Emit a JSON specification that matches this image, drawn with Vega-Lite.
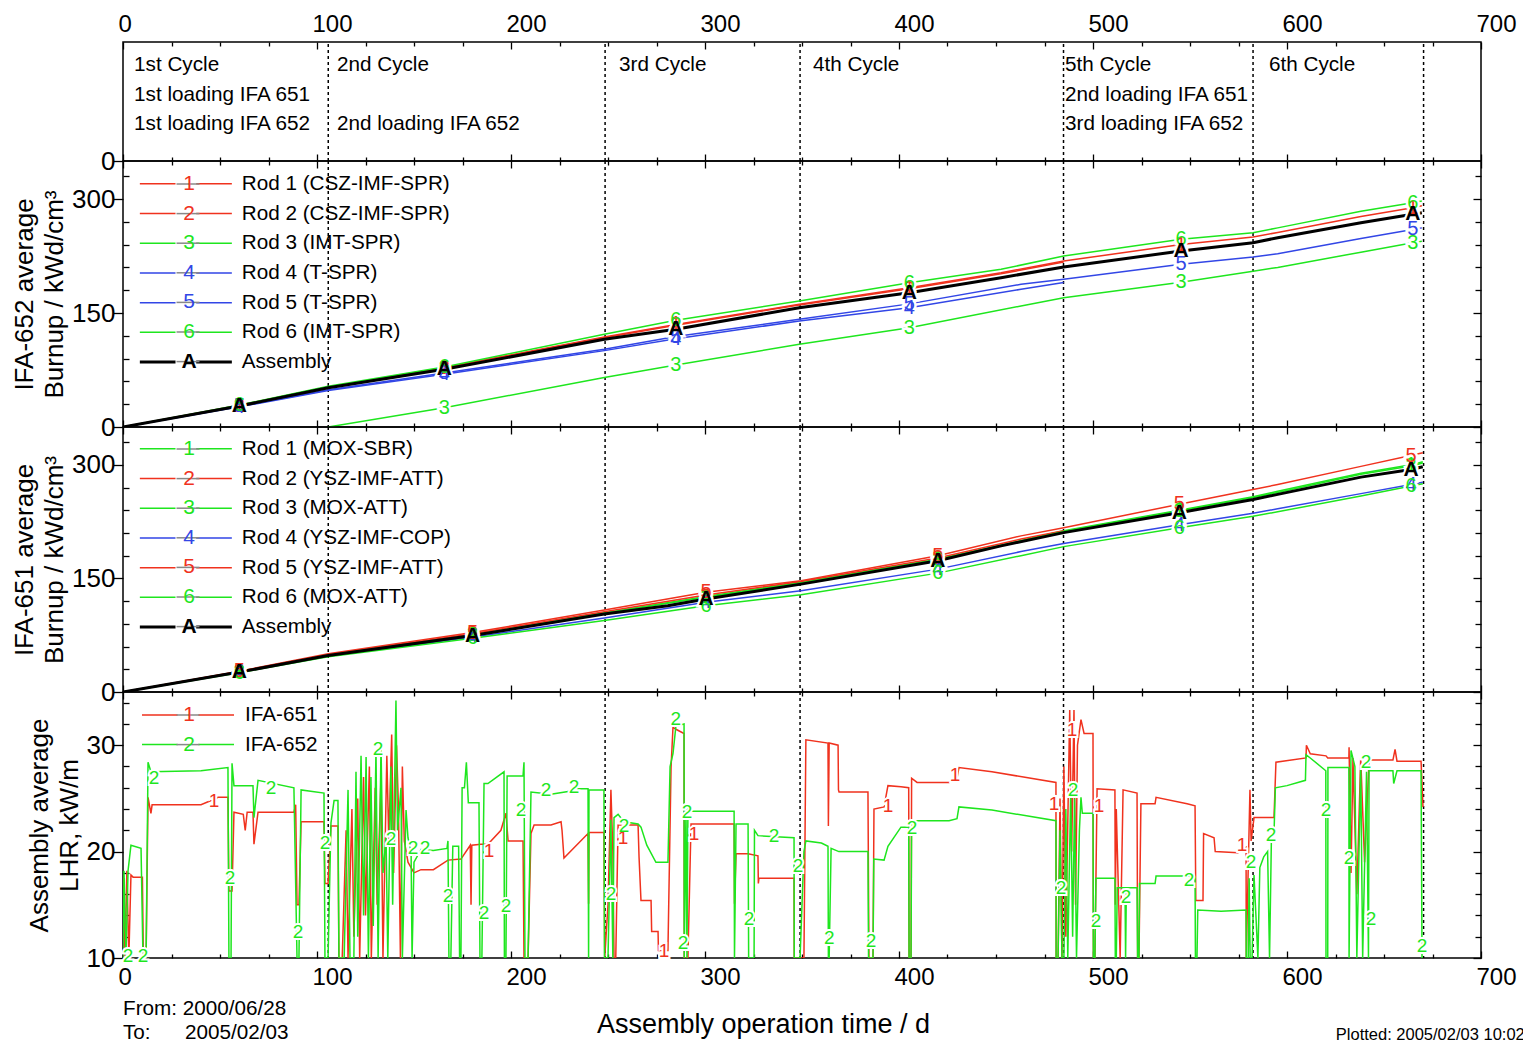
{
"$schema":"https://vega.github.io/schema/vega-lite/v6.json",
"background":"white",
"padding":{"left":10,"top":8,"right":0,"bottom":0},
"autosize":{"type":"pad"},
"config":{"font":"Liberation Sans","view":{"stroke":"black","strokeWidth":1.5},"axis":{"grid":false,"domain":false,"tickColor":"black","tickWidth":1.3,"labelFontSize":24,"labelColor":"black","titleFontSize":26,"titleFontWeight":"normal","titleColor":"black","labelFlush":false,"labelOverlap":false,"labelBound":false},"legend":{"labelFont":"Liberation Sans"}},
"spacing":0,
"bounds":"flush",
"title":{"text":"Plotted: 2005/02/03 10:02","orient":"bottom","anchor":"end","fontSize":16.5,"fontWeight":"normal","color":"black","offset":-16,"dx":8},
"datasets":{
"cyc":[{"day":105.8},{"day":248.5},{"day":349},{"day":484.8},{"day":582.5},{"day":670.4}],
"ctext":[{"day":5.7,"line":"cycle","txt":"1st Cycle"},{"day":5.7,"line":"IFA 651","txt":"1st loading IFA 651"},{"day":5.7,"line":"IFA 652","txt":"1st loading IFA 652"},{"day":110.3,"line":"cycle","txt":"2nd Cycle"},{"day":110.3,"line":"IFA 652","txt":"2nd loading IFA 652"},{"day":255.7,"line":"cycle","txt":"3rd Cycle"},{"day":355.7,"line":"cycle","txt":"4th Cycle"},{"day":485.6,"line":"cycle","txt":"5th Cycle"},{"day":485.6,"line":"IFA 651","txt":"2nd loading IFA 651"},{"day":485.6,"line":"IFA 652","txt":"3rd loading IFA 652"},{"day":590.7,"line":"cycle","txt":"6th Cycle"}],
"r652":[{"rod":"1","label":"Rod 1 (CSZ-IMF-SPR)"},{"rod":"2","label":"Rod 2 (CSZ-IMF-SPR)"},{"rod":"3","label":"Rod 3 (IMT-SPR)"},{"rod":"4","label":"Rod 4 (T-SPR)"},{"rod":"5","label":"Rod 5 (T-SPR)"},{"rod":"6","label":"Rod 6 (IMT-SPR)"},{"rod":"A","label":"Assembly"}],
"r651":[{"rod":"1","label":"Rod 1 (MOX-SBR)"},{"rod":"2","label":"Rod 2 (YSZ-IMF-ATT)"},{"rod":"3","label":"Rod 3 (MOX-ATT)"},{"rod":"4","label":"Rod 4 (YSZ-IMF-COP)"},{"rod":"5","label":"Rod 5 (YSZ-IMF-ATT)"},{"rod":"6","label":"Rod 6 (MOX-ATT)"},{"rod":"A","label":"Assembly"}],
"rl":[{"rod":"1","label":"IFA-651"},{"rod":"2","label":"IFA-652"}],
"b652":[
{"rod":"1","day":0,"v":0},{"rod":"1","day":60,"v":28.5},{"rod":"1","day":105.8,"v":52.5},{"rod":"1","day":165.6,"v":78},{"rod":"1","day":248.1,"v":118.4},{"rod":"1","day":285,"v":135},{"rod":"1","day":348.6,"v":161.4},{"rod":"1","day":405.3,"v":183.3},{"rod":"1","day":452.6,"v":203},{"rod":"1","day":484.9,"v":218.4},{"rod":"1","day":545.4,"v":240},{"rod":"1","day":582.5,"v":250},{"rod":"1","day":595.2,"v":256},{"rod":"1","day":638.1,"v":277},{"rod":"1","day":664.8,"v":288.6},{"rod":"1","day":669.5,"v":291},
{"rod":"2","day":0,"v":0},{"rod":"2","day":60,"v":28},{"rod":"2","day":105.8,"v":52},{"rod":"2","day":165.6,"v":77.5},{"rod":"2","day":248.1,"v":117.5},{"rod":"2","day":285,"v":134},{"rod":"2","day":348.6,"v":160.5},{"rod":"2","day":405.3,"v":182},{"rod":"2","day":452.6,"v":201.5},{"rod":"2","day":484.9,"v":217},
{"rod":"3","day":105.8,"v":0},{"rod":"3","day":165.6,"v":25.4},{"rod":"3","day":248.1,"v":65},{"rod":"3","day":285,"v":81.5},{"rod":"3","day":348.6,"v":108.8},{"rod":"3","day":405.3,"v":130.5},{"rod":"3","day":462.9,"v":159.2},{"rod":"3","day":484.9,"v":170},{"rod":"3","day":545.4,"v":190.5},{"rod":"3","day":582.5,"v":205},{"rod":"3","day":595.2,"v":210},{"rod":"3","day":638.1,"v":230},{"rod":"3","day":664.8,"v":242.5},{"rod":"3","day":669.5,"v":244.5},
{"rod":"4","day":0,"v":0},{"rod":"4","day":60,"v":26.5},{"rod":"4","day":105.8,"v":48},{"rod":"4","day":165.6,"v":69.5},{"rod":"4","day":248.1,"v":100.5},{"rod":"4","day":285,"v":116},{"rod":"4","day":348.6,"v":139.5},{"rod":"4","day":405.3,"v":157},{"rod":"4","day":462.9,"v":181.2},{"rod":"4","day":484.9,"v":190},
{"rod":"5","day":0,"v":0},{"rod":"5","day":60,"v":27},{"rod":"5","day":105.8,"v":49},{"rod":"5","day":165.6,"v":71},{"rod":"5","day":248.1,"v":102.2},{"rod":"5","day":285,"v":119},{"rod":"5","day":348.6,"v":141.7},{"rod":"5","day":405.3,"v":162},{"rod":"5","day":462.9,"v":187.8},{"rod":"5","day":484.9,"v":194.3},{"rod":"5","day":545.4,"v":214},{"rod":"5","day":582.5,"v":223.7},{"rod":"5","day":595.2,"v":228},{"rod":"5","day":638.1,"v":248},{"rod":"5","day":664.8,"v":260},{"rod":"5","day":669.5,"v":262},
{"rod":"6","day":0,"v":0},{"rod":"6","day":60,"v":29},{"rod":"6","day":105.8,"v":53.5},{"rod":"6","day":165.6,"v":79},{"rod":"6","day":248.1,"v":122},{"rod":"6","day":285,"v":140.4},{"rod":"6","day":348.6,"v":165.8},{"rod":"6","day":405.3,"v":189.9},{"rod":"6","day":452.6,"v":207.5},{"rod":"6","day":484.9,"v":225},{"rod":"6","day":545.4,"v":247},{"rod":"6","day":582.5,"v":255.7},{"rod":"6","day":595.2,"v":262},{"rod":"6","day":638.1,"v":284},{"rod":"6","day":664.8,"v":295},{"rod":"6","day":669.5,"v":297.5},
{"rod":"A","day":0,"v":0},{"rod":"A","day":60,"v":27.6},{"rod":"A","day":105.8,"v":51.7},{"rod":"A","day":165.6,"v":75.9},{"rod":"A","day":248.1,"v":115.4},{"rod":"A","day":285,"v":128.5},{"rod":"A","day":348.6,"v":157},{"rod":"A","day":405.3,"v":176.7},{"rod":"A","day":452.6,"v":196.5},{"rod":"A","day":484.9,"v":210.5},{"rod":"A","day":545.4,"v":231.6},{"rod":"A","day":582.5,"v":242.5},{"rod":"A","day":595.2,"v":249},{"rod":"A","day":638.1,"v":268.8},{"rod":"A","day":664.8,"v":279.8},{"rod":"A","day":669.5,"v":281.8}],
"m652":[
{"rod":"1","day":60,"v":28.5},{"rod":"1","day":165.6,"v":78},{"rod":"1","day":285,"v":135},{"rod":"1","day":405.3,"v":183.3},{"rod":"1","day":545.4,"v":240},{"rod":"1","day":664.8,"v":288.6},
{"rod":"2","day":60,"v":28},{"rod":"2","day":165.6,"v":77.5},{"rod":"2","day":285,"v":134},{"rod":"2","day":405.3,"v":182},
{"rod":"3","day":165.6,"v":25.4},{"rod":"3","day":285,"v":81.5},{"rod":"3","day":405.3,"v":130.5},{"rod":"3","day":545.4,"v":190.5},{"rod":"3","day":664.8,"v":242.5},
{"rod":"4","day":60,"v":26.5},{"rod":"4","day":165.6,"v":69.5},{"rod":"4","day":285,"v":116},{"rod":"4","day":405.3,"v":157},
{"rod":"5","day":60,"v":27},{"rod":"5","day":165.6,"v":71},{"rod":"5","day":285,"v":119},{"rod":"5","day":405.3,"v":162},{"rod":"5","day":545.4,"v":214},{"rod":"5","day":664.8,"v":260},
{"rod":"6","day":60,"v":29},{"rod":"6","day":165.6,"v":79},{"rod":"6","day":285,"v":140.4},{"rod":"6","day":405.3,"v":189.9},{"rod":"6","day":545.4,"v":247},{"rod":"6","day":664.8,"v":295},
{"rod":"A","day":60,"v":27.6},{"rod":"A","day":165.6,"v":75.9},{"rod":"A","day":285,"v":128.5},{"rod":"A","day":405.3,"v":176.7},{"rod":"A","day":545.4,"v":231.6},{"rod":"A","day":664.8,"v":279.8}],
"b651":[
{"rod":"1","day":0,"v":0},{"rod":"1","day":60,"v":26.8},{"rod":"1","day":105.8,"v":49},{"rod":"1","day":180.2,"v":75.5},{"rod":"1","day":248.1,"v":104.5},{"rod":"1","day":300.5,"v":126},{"rod":"1","day":349.5,"v":145},{"rod":"1","day":420,"v":175.5},{"rod":"1","day":462.9,"v":200},{"rod":"1","day":484.9,"v":213},{"rod":"1","day":544.5,"v":240},{"rod":"1","day":582.5,"v":258},{"rod":"1","day":595.2,"v":265},{"rod":"1","day":638.1,"v":289},{"rod":"1","day":664,"v":300},{"rod":"1","day":670,"v":304},
{"rod":"2","day":0,"v":0},{"rod":"2","day":60,"v":27},{"rod":"2","day":105.8,"v":49.5},{"rod":"2","day":180.2,"v":77},{"rod":"2","day":248.1,"v":106},{"rod":"2","day":300.5,"v":128},{"rod":"2","day":349.5,"v":146},{"rod":"2","day":420,"v":177},{"rod":"2","day":462.9,"v":202},{"rod":"2","day":484.9,"v":213},
{"rod":"3","day":0,"v":0},{"rod":"3","day":60,"v":26.5},{"rod":"3","day":105.8,"v":48.8},{"rod":"3","day":180.2,"v":75},{"rod":"3","day":248.1,"v":104},{"rod":"3","day":300.5,"v":125},{"rod":"3","day":349.5,"v":144},{"rod":"3","day":420,"v":175},{"rod":"3","day":462.9,"v":199},{"rod":"3","day":484.9,"v":212},{"rod":"3","day":544.5,"v":239},{"rod":"3","day":582.5,"v":257},{"rod":"3","day":595.2,"v":263.5},{"rod":"3","day":638.1,"v":287.5},{"rod":"3","day":664,"v":298.5},{"rod":"3","day":670,"v":302.5},
{"rod":"4","day":0,"v":0},{"rod":"4","day":60,"v":26},{"rod":"4","day":105.8,"v":47.5},{"rod":"4","day":180.2,"v":72.5},{"rod":"4","day":248.1,"v":97.8},{"rod":"4","day":300.5,"v":118.4},{"rod":"4","day":349.5,"v":133.8},{"rod":"4","day":420,"v":162.3},{"rod":"4","day":462.9,"v":185.5},{"rod":"4","day":484.9,"v":196},{"rod":"4","day":544.5,"v":221},{"rod":"4","day":582.5,"v":236},{"rod":"4","day":595.2,"v":242},{"rod":"4","day":638.1,"v":262},{"rod":"4","day":664,"v":274},{"rod":"4","day":670,"v":277},
{"rod":"5","day":0,"v":0},{"rod":"5","day":60,"v":27.5},{"rod":"5","day":105.8,"v":50.5},{"rod":"5","day":180.2,"v":78.5},{"rod":"5","day":248.1,"v":108.3},{"rod":"5","day":300.5,"v":131.6},{"rod":"5","day":349.5,"v":147},{"rod":"5","day":420,"v":179.9},{"rod":"5","day":462.9,"v":206.2},{"rod":"5","day":484.9,"v":217},{"rod":"5","day":544.5,"v":248},{"rod":"5","day":582.5,"v":267.5},{"rod":"5","day":595.2,"v":274},{"rod":"5","day":638.1,"v":298},{"rod":"5","day":662,"v":311.4},{"rod":"5","day":670,"v":316},
{"rod":"6","day":0,"v":0},{"rod":"6","day":60,"v":25.5},{"rod":"6","day":105.8,"v":46.5},{"rod":"6","day":180.2,"v":71},{"rod":"6","day":248.1,"v":94.3},{"rod":"6","day":300.5,"v":114},{"rod":"6","day":349.5,"v":128.5},{"rod":"6","day":420,"v":157},{"rod":"6","day":462.9,"v":180},{"rod":"6","day":484.9,"v":192},{"rod":"6","day":544.5,"v":217},{"rod":"6","day":582.5,"v":232},{"rod":"6","day":595.2,"v":238},{"rod":"6","day":638.1,"v":259},{"rod":"6","day":664,"v":272},{"rod":"6","day":670,"v":275},
{"rod":"A","day":0,"v":0},{"rod":"A","day":60,"v":26.3},{"rod":"A","day":105.8,"v":48.3},{"rod":"A","day":180.2,"v":74.6},{"rod":"A","day":248.1,"v":103},{"rod":"A","day":280.8,"v":114},{"rod":"A","day":300.5,"v":122.8},{"rod":"A","day":349.5,"v":142.5},{"rod":"A","day":420,"v":173.3},{"rod":"A","day":452.6,"v":193},{"rod":"A","day":484.9,"v":210.5},{"rod":"A","day":544.5,"v":236.8},{"rod":"A","day":582.5,"v":254.3},{"rod":"A","day":595.2,"v":261},{"rod":"A","day":638.1,"v":283.8},{"rod":"A","day":663.9,"v":293.8},{"rod":"A","day":670,"v":297.5}],
"m651":[
{"rod":"1","day":60,"v":26.8},{"rod":"1","day":180.2,"v":75.5},{"rod":"1","day":300.5,"v":126},{"rod":"1","day":420,"v":175.5},{"rod":"1","day":544.5,"v":240},{"rod":"1","day":664,"v":300},
{"rod":"2","day":60,"v":27},{"rod":"2","day":180.2,"v":77},{"rod":"2","day":300.5,"v":128},{"rod":"2","day":420,"v":177},
{"rod":"3","day":60,"v":26.5},{"rod":"3","day":180.2,"v":75},{"rod":"3","day":300.5,"v":125},{"rod":"3","day":420,"v":175},{"rod":"3","day":544.5,"v":239},{"rod":"3","day":664,"v":298.5},
{"rod":"4","day":60,"v":26},{"rod":"4","day":180.2,"v":72.5},{"rod":"4","day":300.5,"v":118.4},{"rod":"4","day":420,"v":162.3},{"rod":"4","day":544.5,"v":221},{"rod":"4","day":664,"v":274},
{"rod":"5","day":60,"v":27.5},{"rod":"5","day":180.2,"v":78.5},{"rod":"5","day":300.5,"v":131.6},{"rod":"5","day":420,"v":179.9},{"rod":"5","day":544.5,"v":248},{"rod":"5","day":664,"v":312},
{"rod":"6","day":60,"v":25.5},{"rod":"6","day":180.2,"v":71},{"rod":"6","day":300.5,"v":114},{"rod":"6","day":420,"v":157},{"rod":"6","day":544.5,"v":217},{"rod":"6","day":664,"v":272},
{"rod":"A","day":60,"v":26.3},{"rod":"A","day":180.2,"v":74.6},{"rod":"A","day":300.5,"v":122.8},{"rod":"A","day":420,"v":173.3},{"rod":"A","day":544.5,"v":236.8},{"rod":"A","day":664,"v":293.8}],
"lhr":[
{"rod":"1","day":0,"v":10},{"rod":"1","day":0.5,"v":17.5},{"rod":"1","day":1,"v":10},{"rod":"1","day":2,"v":18.2},{"rod":"1","day":3,"v":10},{"rod":"1","day":4.1,"v":17.8},{"rod":"1","day":5.2,"v":17.6},{"rod":"1","day":10,"v":17.6},{"rod":"1","day":10.5,"v":10},{"rod":"1","day":11.9,"v":10},{"rod":"1","day":12.9,"v":25.1},{"rod":"1","day":14.4,"v":23.6},{"rod":"1","day":15,"v":24.4},{"rod":"1","day":40.2,"v":24.4},{"rod":"1","day":45.4,"v":24.8},{"rod":"1","day":49,"v":25.1},{"rod":"1","day":54.1,"v":25.1},{"rod":"1","day":54.6,"v":16.3},{"rod":"1","day":56.2,"v":16.3},{"rod":"1","day":57.2,"v":23.7},{"rod":"1","day":62,"v":23.5},{"rod":"1","day":63,"v":22},{"rod":"1","day":64,"v":23.7},{"rod":"1","day":67,"v":23.7},{"rod":"1","day":67.5,"v":20.7},{"rod":"1","day":69.6,"v":23.7},{"rod":"1","day":88.1,"v":23.7},{"rod":"1","day":89,"v":24.4},{"rod":"1","day":89.7,"v":15},{"rod":"1","day":90.7,"v":15},{"rod":"1","day":91.8,"v":22.8},{"rod":"1","day":103.6,"v":22.8},{"rod":"1","day":104.1,"v":17},{"rod":"1","day":105.7,"v":17},{"rod":"1","day":107.2,"v":22.4},{"rod":"1","day":110.8,"v":22.4},{"rod":"1","day":111.3,"v":10},{"rod":"1","day":113,"v":10},{"rod":"1","day":115,"v":22},{"rod":"1","day":116,"v":10},{"rod":"1","day":118,"v":24},{"rod":"1","day":119,"v":12},{"rod":"1","day":121,"v":25},{"rod":"1","day":122,"v":10},{"rod":"1","day":124,"v":27},{"rod":"1","day":125,"v":14},{"rod":"1","day":127,"v":28},{"rod":"1","day":128,"v":10},{"rod":"1","day":130,"v":26},{"rod":"1","day":131,"v":15},{"rod":"1","day":133,"v":27},{"rod":"1","day":134,"v":10},{"rod":"1","day":136,"v":29},{"rod":"1","day":137,"v":21},{"rod":"1","day":138.5,"v":31},{"rod":"1","day":139.5,"v":18},{"rod":"1","day":141,"v":30},{"rod":"1","day":142,"v":24},{"rod":"1","day":143,"v":10},{"rod":"1","day":144,"v":28},{"rod":"1","day":145,"v":21},{"rod":"1","day":146.9,"v":19},{"rod":"1","day":148.5,"v":18.5},{"rod":"1","day":150,"v":18},{"rod":"1","day":153.6,"v":18.3},{"rod":"1","day":160,"v":18.3},{"rod":"1","day":167.5,"v":19.2},{"rod":"1","day":174.2,"v":19.3},{"rod":"1","day":179,"v":20.6},{"rod":"1","day":179.4,"v":15},{"rod":"1","day":179.8,"v":20.6},{"rod":"1","day":184.5,"v":20.7},{"rod":"1","day":188.1,"v":20.7},{"rod":"1","day":194.8,"v":22},{"rod":"1","day":197.4,"v":23.6},{"rod":"1","day":198.5,"v":21},{"rod":"1","day":206.2,"v":21},{"rod":"1","day":206.7,"v":10},{"rod":"1","day":208.8,"v":10},{"rod":"1","day":210.3,"v":21.7},{"rod":"1","day":211.9,"v":22.5},{"rod":"1","day":220.6,"v":22.5},{"rod":"1","day":225.8,"v":22.8},{"rod":"1","day":226.3,"v":22},{"rod":"1","day":227.3,"v":19.4},{"rod":"1","day":239.7,"v":21.7},{"rod":"1","day":240,"v":15.1},{"rod":"1","day":240.2,"v":21.8},{"rod":"1","day":247.9,"v":21.8},{"rod":"1","day":248.3,"v":10},{"rod":"1","day":250,"v":15},{"rod":"1","day":251.5,"v":25.8},{"rod":"1","day":252.5,"v":20},{"rod":"1","day":253.1,"v":10},{"rod":"1","day":254,"v":10},{"rod":"1","day":255.2,"v":22.5},{"rod":"1","day":265.5,"v":22.5},{"rod":"1","day":266,"v":19.5},{"rod":"1","day":267,"v":15.4},{"rod":"1","day":272.2,"v":15.4},{"rod":"1","day":272.5,"v":12.5},{"rod":"1","day":275.8,"v":12.5},{"rod":"1","day":276,"v":10.7},{"rod":"1","day":280.9,"v":10.7},{"rod":"1","day":282.5,"v":27.9},{"rod":"1","day":283.5,"v":31.7},{"rod":"1","day":285,"v":31.5},{"rod":"1","day":289.2,"v":31.1},{"rod":"1","day":289.3,"v":10},{"rod":"1","day":291.2,"v":10},{"rod":"1","day":292.8,"v":22.6},{"rod":"1","day":315,"v":22.6},{"rod":"1","day":315.2,"v":15.1},{"rod":"1","day":316,"v":19.8},{"rod":"1","day":322.2,"v":19.8},{"rod":"1","day":327.3,"v":19.6},{"rod":"1","day":327.5,"v":17},{"rod":"1","day":327.8,"v":17.5},{"rod":"1","day":345.9,"v":17.5},{"rod":"1","day":346,"v":10},{"rod":"1","day":351,"v":10},{"rod":"1","day":352,"v":30.5},{"rod":"1","day":363.4,"v":30.2},{"rod":"1","day":363.6,"v":22.4},{"rod":"1","day":364,"v":30.2},{"rod":"1","day":368.6,"v":30},{"rod":"1","day":368.8,"v":25.8},{"rod":"1","day":369.1,"v":25.6},{"rod":"1","day":384,"v":25.6},{"rod":"1","day":384.5,"v":10},{"rod":"1","day":386.6,"v":10},{"rod":"1","day":387.1,"v":24},{"rod":"1","day":392.3,"v":24.2},{"rod":"1","day":394.3,"v":26.2},{"rod":"1","day":401,"v":26.1},{"rod":"1","day":405,"v":26},{"rod":"1","day":405.2,"v":10},{"rod":"1","day":406.2,"v":10},{"rod":"1","day":406.5,"v":26.9},{"rod":"1","day":409.3,"v":26.5},{"rod":"1","day":425.8,"v":26.5},{"rod":"1","day":429.9,"v":26.9},{"rod":"1","day":430.9,"v":27.9},{"rod":"1","day":447.9,"v":27.5},{"rod":"1","day":480.9,"v":26.5},{"rod":"1","day":481,"v":10},{"rod":"1","day":482,"v":10},{"rod":"1","day":483,"v":25},{"rod":"1","day":484,"v":10},{"rod":"1","day":485,"v":28},{"rod":"1","day":486,"v":12},{"rod":"1","day":488,"v":33.3},{"rod":"1","day":489,"v":20},{"rod":"1","day":490.2,"v":33.3},{"rod":"1","day":491,"v":15},{"rod":"1","day":492,"v":30},{"rod":"1","day":493.8,"v":32.4},{"rod":"1","day":495.4,"v":31.1},{"rod":"1","day":500,"v":31.1},{"rod":"1","day":500.2,"v":10},{"rod":"1","day":501,"v":10},{"rod":"1","day":502.1,"v":25.9},{"rod":"1","day":511.3,"v":25.8},{"rod":"1","day":511.5,"v":15},{"rod":"1","day":512,"v":24},{"rod":"1","day":514,"v":10},{"rod":"1","day":515.5,"v":25.8},{"rod":"1","day":522.7,"v":25.5},{"rod":"1","day":523,"v":10},{"rod":"1","day":523.7,"v":10},{"rod":"1","day":524.7,"v":24.5},{"rod":"1","day":532,"v":24.5},{"rod":"1","day":532.5,"v":25.1},{"rod":"1","day":548.5,"v":24.5},{"rod":"1","day":552.6,"v":24.3},{"rod":"1","day":553,"v":15.4},{"rod":"1","day":556.7,"v":15.4},{"rod":"1","day":557,"v":21.7},{"rod":"1","day":562.4,"v":21.3},{"rod":"1","day":563,"v":20},{"rod":"1","day":574.7,"v":19.9},{"rod":"1","day":578.9,"v":20.4},{"rod":"1","day":579,"v":10},{"rod":"1","day":580.9,"v":25.8},{"rod":"1","day":581.5,"v":21},{"rod":"1","day":583,"v":23.2},{"rod":"1","day":593.3,"v":23.2},{"rod":"1","day":594.3,"v":28.4},{"rod":"1","day":609.8,"v":28.8},{"rod":"1","day":610,"v":30},{"rod":"1","day":612,"v":29.2},{"rod":"1","day":620.1,"v":29},{"rod":"1","day":621,"v":28.8},{"rod":"1","day":631.9,"v":28.8},{"rod":"1","day":632,"v":29.8},{"rod":"1","day":633,"v":18},{"rod":"1","day":634,"v":28.8},{"rod":"1","day":636,"v":16},{"rod":"1","day":638,"v":28.8},{"rod":"1","day":640,"v":19},{"rod":"1","day":642.3,"v":28.6},{"rod":"1","day":654.6,"v":28.6},{"rod":"1","day":655.7,"v":29.6},{"rod":"1","day":656.7,"v":28.5},{"rod":"1","day":669.1,"v":28.5},{"rod":"1","day":670.1,"v":24.2},
{"rod":"2","day":0,"v":10},{"rod":"2","day":0.5,"v":18.2},{"rod":"2","day":1.5,"v":10},{"rod":"2","day":2.6,"v":18.2},{"rod":"2","day":4.1,"v":20.6},{"rod":"2","day":9.3,"v":20.3},{"rod":"2","day":10.3,"v":10},{"rod":"2","day":11.9,"v":10},{"rod":"2","day":12.9,"v":28.4},{"rod":"2","day":14.4,"v":27.5},{"rod":"2","day":40.2,"v":27.6},{"rod":"2","day":54.1,"v":27.9},{"rod":"2","day":54.6,"v":10},{"rod":"2","day":55.7,"v":10},{"rod":"2","day":56.2,"v":28.3},{"rod":"2","day":57.2,"v":26.2},{"rod":"2","day":67,"v":26.2},{"rod":"2","day":67.5,"v":23.2},{"rod":"2","day":69.6,"v":26.7},{"rod":"2","day":88.1,"v":26},{"rod":"2","day":89.7,"v":10},{"rod":"2","day":90.7,"v":10},{"rod":"2","day":91.8,"v":25.8},{"rod":"2","day":103.6,"v":25.5},{"rod":"2","day":104.1,"v":10},{"rod":"2","day":105.7,"v":10},{"rod":"2","day":107.2,"v":22.7},{"rod":"2","day":108.8,"v":24.8},{"rod":"2","day":110.8,"v":24.8},{"rod":"2","day":111.3,"v":10},{"rod":"2","day":114,"v":10},{"rod":"2","day":116,"v":25.8},{"rod":"2","day":117,"v":10},{"rod":"2","day":119,"v":10},{"rod":"2","day":120.1,"v":27.5},{"rod":"2","day":121,"v":12},{"rod":"2","day":122.7,"v":29},{"rod":"2","day":124,"v":14},{"rod":"2","day":125.3,"v":28.9},{"rod":"2","day":126.5,"v":10},{"rod":"2","day":127.8,"v":27},{"rod":"2","day":129,"v":13},{"rod":"2","day":130.4,"v":29.5},{"rod":"2","day":131.5,"v":10},{"rod":"2","day":133,"v":30},{"rod":"2","day":134,"v":18},{"rod":"2","day":135.6,"v":21.3},{"rod":"2","day":136.5,"v":10},{"rod":"2","day":138.1,"v":28},{"rod":"2","day":139,"v":15},{"rod":"2","day":140.7,"v":34.2},{"rod":"2","day":141.5,"v":22},{"rod":"2","day":143.3,"v":26},{"rod":"2","day":144,"v":10},{"rod":"2","day":145.9,"v":23.9},{"rod":"2","day":146.9,"v":21.3},{"rod":"2","day":148.5,"v":20},{"rod":"2","day":149,"v":10},{"rod":"2","day":150,"v":19},{"rod":"2","day":153.6,"v":20.2},{"rod":"2","day":160,"v":20.1},{"rod":"2","day":167,"v":20.3},{"rod":"2","day":167.5,"v":21},{"rod":"2","day":168,"v":10},{"rod":"2","day":169,"v":10},{"rod":"2","day":170,"v":20.5},{"rod":"2","day":173,"v":20.5},{"rod":"2","day":173.5,"v":10},{"rod":"2","day":174.2,"v":10},{"rod":"2","day":174.8,"v":26},{"rod":"2","day":176,"v":26},{"rod":"2","day":177,"v":28.4},{"rod":"2","day":178,"v":24.6},{"rod":"2","day":183.5,"v":24.6},{"rod":"2","day":184,"v":10},{"rod":"2","day":185,"v":10},{"rod":"2","day":186.1,"v":26.4},{"rod":"2","day":188.1,"v":26.4},{"rod":"2","day":196.4,"v":27.5},{"rod":"2","day":196.6,"v":10},{"rod":"2","day":197.4,"v":10},{"rod":"2","day":198,"v":27.1},{"rod":"2","day":206.2,"v":27.1},{"rod":"2","day":206.7,"v":28.4},{"rod":"2","day":207.2,"v":10},{"rod":"2","day":208.8,"v":10},{"rod":"2","day":210.3,"v":25.6},{"rod":"2","day":220.6,"v":25.4},{"rod":"2","day":231,"v":25.7},{"rod":"2","day":232.5,"v":26},{"rod":"2","day":234.5,"v":25.9},{"rod":"2","day":239.7,"v":25.9},{"rod":"2","day":240,"v":10},{"rod":"2","day":240.2,"v":25.8},{"rod":"2","day":247.9,"v":25.8},{"rod":"2","day":248.2,"v":10},{"rod":"2","day":250,"v":10},{"rod":"2","day":251.5,"v":23},{"rod":"2","day":252.5,"v":10},{"rod":"2","day":253.1,"v":23.2},{"rod":"2","day":255.2,"v":23.5},{"rod":"2","day":258.2,"v":22.8},{"rod":"2","day":265.5,"v":22.6},{"rod":"2","day":267,"v":22.3},{"rod":"2","day":270,"v":20.6},{"rod":"2","day":274.7,"v":19},{"rod":"2","day":280.9,"v":19},{"rod":"2","day":282,"v":28},{"rod":"2","day":283.5,"v":29.2},{"rod":"2","day":285,"v":31.8},{"rod":"2","day":289.2,"v":32},{"rod":"2","day":289.3,"v":10},{"rod":"2","day":290.2,"v":24},{"rod":"2","day":290.7,"v":10},{"rod":"2","day":291.2,"v":24},{"rod":"2","day":292.8,"v":23.8},{"rod":"2","day":315,"v":23.8},{"rod":"2","day":315.2,"v":10},{"rod":"2","day":316,"v":22.6},{"rod":"2","day":322.2,"v":22.6},{"rod":"2","day":322.5,"v":10},{"rod":"2","day":325.3,"v":10},{"rod":"2","day":325.5,"v":22},{"rod":"2","day":327.3,"v":21.5},{"rod":"2","day":345.9,"v":21.3},{"rod":"2","day":346,"v":10},{"rod":"2","day":349,"v":10},{"rod":"2","day":351,"v":20},{"rod":"2","day":352,"v":21},{"rod":"2","day":360,"v":20.8},{"rod":"2","day":363.4,"v":20.5},{"rod":"2","day":363.6,"v":10},{"rod":"2","day":364,"v":10},{"rod":"2","day":365,"v":20.3},{"rod":"2","day":369,"v":20},{"rod":"2","day":384,"v":20},{"rod":"2","day":384.3,"v":10},{"rod":"2","day":386.6,"v":10},{"rod":"2","day":387,"v":19.3},{"rod":"2","day":392.3,"v":19.2},{"rod":"2","day":394.3,"v":20.5},{"rod":"2","day":401,"v":22.3},{"rod":"2","day":405,"v":22.3},{"rod":"2","day":405.2,"v":10},{"rod":"2","day":406.2,"v":10},{"rod":"2","day":406.5,"v":22.9},{"rod":"2","day":425.8,"v":22.9},{"rod":"2","day":429.9,"v":23.1},{"rod":"2","day":430.9,"v":24.2},{"rod":"2","day":447.9,"v":23.9},{"rod":"2","day":480.9,"v":22.9},{"rod":"2","day":481,"v":10},{"rod":"2","day":482,"v":10},{"rod":"2","day":483,"v":22},{"rod":"2","day":484,"v":10},{"rod":"2","day":485,"v":10},{"rod":"2","day":486,"v":24},{"rod":"2","day":487,"v":10},{"rod":"2","day":488.5,"v":25.6},{"rod":"2","day":489.5,"v":12},{"rod":"2","day":490.5,"v":25},{"rod":"2","day":491.5,"v":10},{"rod":"2","day":493,"v":22},{"rod":"2","day":493.8,"v":25.1},{"rod":"2","day":494.5,"v":23.6},{"rod":"2","day":500,"v":23.6},{"rod":"2","day":500.2,"v":10},{"rod":"2","day":501,"v":10},{"rod":"2","day":501.5,"v":17.5},{"rod":"2","day":511.3,"v":17.5},{"rod":"2","day":511.5,"v":10},{"rod":"2","day":512,"v":10},{"rod":"2","day":512.5,"v":16.6},{"rod":"2","day":516.5,"v":16.6},{"rod":"2","day":516.8,"v":10},{"rod":"2","day":517.2,"v":16.6},{"rod":"2","day":522.7,"v":16.6},{"rod":"2","day":523,"v":10},{"rod":"2","day":523.7,"v":10},{"rod":"2","day":524,"v":17},{"rod":"2","day":532,"v":17},{"rod":"2","day":532.5,"v":17.7},{"rod":"2","day":548.5,"v":17.7},{"rod":"2","day":552.6,"v":17.6},{"rod":"2","day":552.8,"v":10},{"rod":"2","day":553.6,"v":10},{"rod":"2","day":554,"v":14.5},{"rod":"2","day":566,"v":14.4},{"rod":"2","day":578.9,"v":14.5},{"rod":"2","day":579,"v":10},{"rod":"2","day":580,"v":10},{"rod":"2","day":580.5,"v":17.5},{"rod":"2","day":581,"v":10},{"rod":"2","day":582,"v":10},{"rod":"2","day":583,"v":17.8},{"rod":"2","day":585,"v":10},{"rod":"2","day":586,"v":18.5},{"rod":"2","day":588,"v":19.5},{"rod":"2","day":590,"v":20},{"rod":"2","day":591,"v":10},{"rod":"2","day":592,"v":21.7},{"rod":"2","day":593.3,"v":21.7},{"rod":"2","day":594,"v":26},{"rod":"2","day":600,"v":26.2},{"rod":"2","day":609.5,"v":26.7},{"rod":"2","day":609.8,"v":29.1},{"rod":"2","day":612,"v":28.8},{"rod":"2","day":620,"v":27.6},{"rod":"2","day":620.1,"v":10},{"rod":"2","day":621,"v":10},{"rod":"2","day":621.1,"v":27.9},{"rod":"2","day":631.9,"v":27.9},{"rod":"2","day":632,"v":10},{"rod":"2","day":633,"v":29.5},{"rod":"2","day":635,"v":28},{"rod":"2","day":636,"v":10},{"rod":"2","day":638,"v":28},{"rod":"2","day":639,"v":10},{"rod":"2","day":641,"v":27.5},{"rod":"2","day":642,"v":10},{"rod":"2","day":642.3,"v":27.6},{"rod":"2","day":654.6,"v":27.6},{"rod":"2","day":655,"v":26.4},{"rod":"2","day":656.7,"v":27.6},{"rod":"2","day":669.1,"v":27.6},{"rod":"2","day":669.6,"v":10}],
"mlhr":[
{"rod":"1","day":46.9,"v":24.8},{"rod":"1","day":188.7,"v":20.1},{"rod":"1","day":257.7,"v":21.3},{"rod":"1","day":278.9,"v":10.7},{"rod":"1","day":294.3,"v":21.7},{"rod":"1","day":394.3,"v":24.3},{"rod":"1","day":428.9,"v":27.2},{"rod":"1","day":479.9,"v":24.5},{"rod":"1","day":489.2,"v":31.4},{"rod":"1","day":503.1,"v":24.3},{"rod":"1","day":576.8,"v":20.6},
{"rod":"2","day":16,"v":26.9},{"rod":"2","day":76.3,"v":26},{"rod":"2","day":55.2,"v":17.5},{"rod":"2","day":90.2,"v":12.4},{"rod":"2","day":104.1,"v":20.8},{"rod":"2","day":2.6,"v":10.2},{"rod":"2","day":10.3,"v":10.2},{"rod":"2","day":131.4,"v":29.6},{"rod":"2","day":138.1,"v":21.2},{"rod":"2","day":149.5,"v":20.3},{"rod":"2","day":155.7,"v":20.3},{"rod":"2","day":167.5,"v":15.8},{"rod":"2","day":186.1,"v":14.2},{"rod":"2","day":197.4,"v":14.9},{"rod":"2","day":205.2,"v":23.9},{"rod":"2","day":218,"v":25.8},{"rod":"2","day":232.5,"v":26.1},{"rod":"2","day":251.5,"v":16},{"rod":"2","day":258.2,"v":22.4},{"rod":"2","day":285,"v":32.5},{"rod":"2","day":290.7,"v":23.7},{"rod":"2","day":288.7,"v":11.4},{"rod":"2","day":322.7,"v":13.7},{"rod":"2","day":335.6,"v":21.5},{"rod":"2","day":348,"v":18.6},{"rod":"2","day":364,"v":11.9},{"rod":"2","day":385.6,"v":11.6},{"rod":"2","day":406.7,"v":22.2},{"rod":"2","day":483.5,"v":16.6},{"rod":"2","day":489.7,"v":25.8},{"rod":"2","day":501.5,"v":13.5},{"rod":"2","day":517,"v":15.7},{"rod":"2","day":549.5,"v":17.3},{"rod":"2","day":581.4,"v":19},{"rod":"2","day":591.8,"v":21.6},{"rod":"2","day":620.1,"v":23.9},{"rod":"2","day":632,"v":19.4},{"rod":"2","day":640.7,"v":28.4},{"rod":"2","day":643.3,"v":13.7},{"rod":"2","day":669.6,"v":11.1}]
},
"vconcat":[
{"width":1358,"height":119,
 "layer":[
  {"data":{"name":"cyc"},"mark":{"type":"rule","strokeDash":[3,3],"strokeWidth":1.5,"color":"black"},
   "encoding":{
    "x":{"field":"day","type":"quantitative","scale":{"domain":[0,700],"nice":false},"axis":{"orient":"bottom","values":[0,25,50,75,100,125,150,175,200,225,250,275,300,325,350,375,400,425,450,475,500,525,550,575,600,625,650,675,700],"labels":false,"title":null,"tickSize":{"condition":{"test":"datum.value % 100 === 0","value":-7},"value":-4}}},
    "y":{"datum":0,"type":"quantitative","scale":{"domain":[0,1],"nice":false},"axis":{"orient":"left","values":[0],"tickSize":10,"labelPadding":-2,"labelFontSize":26,"title":null}},
    "y2":{"datum":1}}},
  {"data":{"name":"ctext"},"mark":{"type":"text","align":"left","baseline":"middle","fontSize":20.7,"color":"black"},
   "encoding":{
    "x":{"field":"day","type":"quantitative","axis":{"orient":"top","values":[0,25,50,75,100,125,150,175,200,225,250,275,300,325,350,375,400,425,450,475,500,525,550,575,600,625,650,675,700],"labelExpr":"datum.value % 100 === 0 ? datum.label : ''","labelAlign":"left","labelOffset":-5,"labelPadding":13,"title":null,"tickSize":{"condition":{"test":"datum.value % 100 === 0","value":-7},"value":-4}}},
    "y":{"field":"line","type":"ordinal","scale":{"type":"point","domain":["cycle","IFA 651","IFA 652"],"padding":1.01,"align":0.385},"axis":null},
    "text":{"field":"txt"}}}
 ],
 "resolve":{"scale":{"y":"independent"},"axis":{"x":"independent","y":"independent"}}
},
{"width":1358,"height":266,
 "layer":[
  {"data":{"name":"cyc"},"mark":{"type":"rule","strokeDash":[3,3],"strokeWidth":1.5,"color":"black"},
   "encoding":{"x":{"field":"day","type":"quantitative","scale":{"domain":[0,700],"nice":false},"axis":null}}},
  {"data":{"name":"b652"},"transform":[{"lookup":"rod","from":{"data":{"name":"r652"},"key":"rod","fields":["label"]}},{"filter":"datum.rod !== 'A'"}],
   "mark":{"type":"line","strokeWidth":1.5,"clip":true},
   "encoding":{
    "x":{"field":"day","type":"quantitative","axis":{"orient":"bottom","values":[0,25,50,75,100,125,150,175,200,225,250,275,300,325,350,375,400,425,450,475,500,525,550,575,600,625,650,675,700],"labels":false,"title":null,"tickSize":{"condition":{"test":"datum.value % 100 === 0","value":-7},"value":-4}}},
    "y":{"field":"v","type":"quantitative","scale":{"domain":[0,350],"nice":false},"axis":{"orient":"left","values":[0,30,60,90,120,150,180,210,240,270,300,330],"labelExpr":"datum.value % 150 === 0 ? datum.label : ''","labelFontSize":26,"tickSize":{"condition":{"test":"datum.value % 150 === 0","value":10},"value":-6},"labelPadding":-2,"title":["IFA-652 average","Burnup / kWd/cm³"],"titleLineHeight":30,"titlePadding":4}},
    "color":{"field":"label","type":"nominal","scale":{"domain":["Rod 1 (CSZ-IMF-SPR)","Rod 2 (CSZ-IMF-SPR)","Rod 3 (IMT-SPR)","Rod 4 (T-SPR)","Rod 5 (T-SPR)","Rod 6 (IMT-SPR)","Assembly"],"range":["#f0321e","#f0321e","#1ee61e","#3246e6","#3246e6","#1ee61e","#000000"]},
     "legend":{"orient":"none","legendX":52.5,"legendY":12.5,"title":null,"padding":0,"symbolType":"M-4,0H-0.9M0.9,0H4","symbolSize":529,"symbolStrokeWidth":{"expr":"datum.value === 'Assembly' ? 3 : 1.5"},"labelOffset":45.5,"labelFontSize":20.7,"labelColor":"black","labelLimit":600,"rowPadding":7.7}},
    "opacity":{"field":"rod","type":"ordinal","scale":{"domain":["1","2","3","4","5","6","A"],"range":[1,1]},
     "legend":{"orient":"none","legendX":52.5,"legendY":10.5,"title":null,"padding":0,"symbolOpacity":0,"symbolSize":529,"labelAlign":"center","labelOffset":-11.5,"labelFontSize":21,"labelFontWeight":{"expr":"datum.value === 'A' ? 'bold' : 'normal'"},"labelColor":{"expr":"datum.value === '1' || datum.value === '2' ? '#f0321e' : (datum.value === '3' || datum.value === '6' ? '#1ee61e' : (datum.value === 'A' ? '#000000' : '#3246e6'))"},"rowPadding":6.6}}}},
  {"data":{"name":"b652"},"transform":[{"lookup":"rod","from":{"data":{"name":"r652"},"key":"rod","fields":["label"]}},{"filter":"datum.rod === 'A'"}],
   "mark":{"type":"line","strokeWidth":3,"clip":true},
   "encoding":{"x":{"field":"day","type":"quantitative","axis":null},"y":{"field":"v","type":"quantitative","axis":null},"color":{"field":"label","type":"nominal"},"opacity":{"field":"rod","type":"ordinal"}}},
  {"data":{"name":"m652"},"mark":{"type":"text","fontSize":20,"stroke":"white","strokeWidth":5,"fill":"white"},
   "encoding":{
    "x":{"field":"day","type":"quantitative","axis":{"orient":"top","values":[0,25,50,75,100,125,150,175,200,225,250,275,300,325,350,375,400,425,450,475,500,525,550,575,600,625,650,675,700],"labels":false,"title":null,"tickSize":{"condition":{"test":"datum.value % 100 === 0","value":-7},"value":-4}}},
    "y":{"field":"v","type":"quantitative","axis":{"orient":"right","values":[0,30,60,90,120,150,180,210,240,270,300,330],"labels":false,"title":null,"tickSize":{"condition":{"test":"datum.value % 150 === 0","value":-8},"value":-6}}},
    "text":{"field":"rod"}}},
  {"data":{"name":"m652"},"transform":[{"lookup":"rod","from":{"data":{"name":"r652"},"key":"rod","fields":["label"]}},{"filter":"datum.rod !== 'A'"}],"mark":{"type":"text","fontSize":20},
   "encoding":{"x":{"field":"day","type":"quantitative","axis":null},"y":{"field":"v","type":"quantitative","axis":null},"text":{"field":"rod"},"color":{"field":"label","type":"nominal"}}},
  {"data":{"name":"m652"},"transform":[{"lookup":"rod","from":{"data":{"name":"r652"},"key":"rod","fields":["label"]}},{"filter":"datum.rod === 'A'"}],"mark":{"type":"text","fontSize":21,"fontWeight":"bold"},
   "encoding":{"x":{"field":"day","type":"quantitative","axis":null},"y":{"field":"v","type":"quantitative","axis":null},"text":{"field":"rod"},"color":{"field":"label","type":"nominal"}}}
 ],
 "resolve":{"axis":{"x":"independent","y":"independent"}}
},
{"width":1358,"height":265,
 "layer":[
  {"data":{"name":"cyc"},"mark":{"type":"rule","strokeDash":[3,3],"strokeWidth":1.5,"color":"black"},
   "encoding":{"x":{"field":"day","type":"quantitative","scale":{"domain":[0,700],"nice":false},"axis":null}}},
  {"data":{"name":"b651"},"transform":[{"lookup":"rod","from":{"data":{"name":"r651"},"key":"rod","fields":["label"]}},{"filter":"datum.rod !== 'A'"}],
   "mark":{"type":"line","strokeWidth":1.5,"clip":true},
   "encoding":{
    "x":{"field":"day","type":"quantitative","axis":{"orient":"bottom","values":[0,25,50,75,100,125,150,175,200,225,250,275,300,325,350,375,400,425,450,475,500,525,550,575,600,625,650,675,700],"labels":false,"title":null,"tickSize":{"condition":{"test":"datum.value % 100 === 0","value":-7},"value":-4}}},
    "y":{"field":"v","type":"quantitative","scale":{"domain":[0,350],"nice":false},"axis":{"orient":"left","values":[0,30,60,90,120,150,180,210,240,270,300,330],"labelExpr":"datum.value % 150 === 0 ? datum.label : ''","labelFontSize":26,"tickSize":{"condition":{"test":"datum.value % 150 === 0","value":10},"value":-6},"labelPadding":-2,"title":["IFA-651 average","Burnup / kWd/cm³"],"titleLineHeight":30,"titlePadding":4}},
    "color":{"field":"label","type":"nominal","scale":{"domain":["Rod 1 (MOX-SBR)","Rod 2 (YSZ-IMF-ATT)","Rod 3 (MOX-ATT)","Rod 4 (YSZ-IMF-COP)","Rod 5 (YSZ-IMF-ATT)","Rod 6 (MOX-ATT)","Assembly"],"range":["#1ee61e","#f0321e","#1ee61e","#3246e6","#f0321e","#1ee61e","#000000"]},
     "legend":{"orient":"none","legendX":52.5,"legendY":11.5,"title":null,"padding":0,"symbolType":"M-4,0H-0.9M0.9,0H4","symbolSize":529,"symbolStrokeWidth":{"expr":"datum.value === 'Assembly' ? 3 : 1.5"},"labelOffset":45.5,"labelFontSize":20.7,"labelColor":"black","labelLimit":600,"rowPadding":7.7}},
    "opacity":{"field":"rod","type":"ordinal","scale":{"domain":["1","2","3","4","5","6","A"],"range":[1,1]},
     "legend":{"orient":"none","legendX":52.5,"legendY":9.5,"title":null,"padding":0,"symbolOpacity":0,"symbolSize":529,"labelAlign":"center","labelOffset":-11.5,"labelFontSize":21,"labelFontWeight":{"expr":"datum.value === 'A' ? 'bold' : 'normal'"},"labelColor":{"expr":"datum.value === '2' || datum.value === '5' ? '#f0321e' : (datum.value === '4' ? '#3246e6' : (datum.value === 'A' ? '#000000' : '#1ee61e'))"},"rowPadding":6.6}}}},
  {"data":{"name":"b651"},"transform":[{"lookup":"rod","from":{"data":{"name":"r651"},"key":"rod","fields":["label"]}},{"filter":"datum.rod === 'A'"}],
   "mark":{"type":"line","strokeWidth":3,"clip":true},
   "encoding":{"x":{"field":"day","type":"quantitative","axis":null},"y":{"field":"v","type":"quantitative","axis":null},"color":{"field":"label","type":"nominal"},"opacity":{"field":"rod","type":"ordinal"}}},
  {"data":{"name":"m651"},"mark":{"type":"text","fontSize":20,"stroke":"white","strokeWidth":5,"fill":"white"},
   "encoding":{
    "x":{"field":"day","type":"quantitative","axis":{"orient":"top","values":[0,25,50,75,100,125,150,175,200,225,250,275,300,325,350,375,400,425,450,475,500,525,550,575,600,625,650,675,700],"labels":false,"title":null,"tickSize":{"condition":{"test":"datum.value % 100 === 0","value":-7},"value":-4}}},
    "y":{"field":"v","type":"quantitative","axis":{"orient":"right","values":[0,30,60,90,120,150,180,210,240,270,300,330],"labels":false,"title":null,"tickSize":{"condition":{"test":"datum.value % 150 === 0","value":-8},"value":-6}}},
    "text":{"field":"rod"}}},
  {"data":{"name":"m651"},"transform":[{"lookup":"rod","from":{"data":{"name":"r651"},"key":"rod","fields":["label"]}},{"filter":"datum.rod !== 'A'"}],"mark":{"type":"text","fontSize":20},
   "encoding":{"x":{"field":"day","type":"quantitative","axis":null},"y":{"field":"v","type":"quantitative","axis":null},"text":{"field":"rod"},"color":{"field":"label","type":"nominal"}}},
  {"data":{"name":"m651"},"transform":[{"lookup":"rod","from":{"data":{"name":"r651"},"key":"rod","fields":["label"]}},{"filter":"datum.rod === 'A'"}],"mark":{"type":"text","fontSize":21,"fontWeight":"bold"},
   "encoding":{"x":{"field":"day","type":"quantitative","axis":null},"y":{"field":"v","type":"quantitative","axis":null},"text":{"field":"rod"},"color":{"field":"label","type":"nominal"}}}
 ],
 "resolve":{"axis":{"x":"independent","y":"independent"}}
},
{"width":1358,"height":266,
 "title":{"text":["From: 2000/06/28","To:\u00a0\u00a0\u00a0\u00a0\u00a0 2005/02/03"],"orient":"bottom","anchor":"start","frame":"group","fontSize":20.7,"fontWeight":"normal","color":"black","lineHeight":24,"offset":-38},
 "layer":[
  {"data":{"name":"cyc"},"mark":{"type":"rule","strokeDash":[3,3],"strokeWidth":1.5,"color":"black"},
   "encoding":{"x":{"field":"day","type":"quantitative","scale":{"domain":[0,700],"nice":false},"axis":null}}},
  {"data":{"name":"lhr"},"transform":[{"lookup":"rod","from":{"data":{"name":"rl"},"key":"rod","fields":["label"]}}],
   "mark":{"type":"line","strokeWidth":1.5,"clip":true},
   "encoding":{
    "x":{"field":"day","type":"quantitative","axis":{"orient":"bottom","values":[0,25,50,75,100,125,150,175,200,225,250,275,300,325,350,375,400,425,450,475,500,525,550,575,600,625,650,675,700],"labelExpr":"datum.value % 100 === 0 ? datum.label : ''","labelAlign":"left","labelOffset":-5,"labelPadding":14,"title":"Assembly operation time / d","titleFontSize":27,"titlePadding":19,"titleX":640,"titleAlign":"center","tickSize":{"condition":{"test":"datum.value % 100 === 0","value":-7},"value":-4}}},
    "y":{"field":"v","type":"quantitative","scale":{"domain":[10,35],"nice":false},"axis":{"orient":"left","values":[10,12,14,16,18,20,22,24,26,28,30,32,34],"labelExpr":"datum.value % 10 === 0 ? datum.label : ''","labelFontSize":26,"tickSize":{"condition":{"test":"datum.value % 10 === 0","value":10},"value":-6},"labelPadding":-2,"title":["Assembly average","LHR, kW/m"],"titleLineHeight":30,"titlePadding":4}},
    "color":{"field":"label","type":"nominal","scale":{"domain":["IFA-651","IFA-652"],"range":["#f0321e","#1ee61e"]},
     "legend":{"orient":"none","legendX":52.5,"legendY":10.5,"title":null,"padding":0,"symbolType":"M-4,0H-0.9M0.9,0H4","symbolSize":529,"symbolStrokeWidth":1.5,"labelOffset":44.5,"labelFontSize":20.7,"labelColor":"black","labelLimit":600,"rowPadding":6.6}},
    "opacity":{"field":"rod","type":"ordinal","scale":{"domain":["1","2"],"range":[1,1]},
     "legend":{"orient":"none","legendX":52.5,"legendY":10.5,"title":null,"padding":0,"symbolOpacity":0,"symbolSize":529,"labelAlign":"center","labelOffset":-11.5,"labelFontSize":21,"labelColor":{"expr":"datum.value === '1' ? '#f0321e' : '#1ee61e'"},"rowPadding":6.6}}}},
  {"data":{"name":"mlhr"},"mark":{"type":"text","fontSize":19,"stroke":"white","strokeWidth":4,"fill":"white"},
   "encoding":{
    "x":{"field":"day","type":"quantitative","axis":{"orient":"top","values":[0,25,50,75,100,125,150,175,200,225,250,275,300,325,350,375,400,425,450,475,500,525,550,575,600,625,650,675,700],"labels":false,"title":null,"tickSize":{"condition":{"test":"datum.value % 100 === 0","value":-7},"value":-4}}},
    "y":{"field":"v","type":"quantitative","axis":{"orient":"right","values":[10,12,14,16,18,20,22,24,26,28,30,32,34],"labels":false,"title":null,"tickSize":{"condition":{"test":"datum.value % 10 === 0","value":-8},"value":-6}}},
    "text":{"field":"rod"}}},
  {"data":{"name":"mlhr"},"transform":[{"lookup":"rod","from":{"data":{"name":"rl"},"key":"rod","fields":["label"]}}],"mark":{"type":"text","fontSize":19},
   "encoding":{"x":{"field":"day","type":"quantitative","axis":null},"y":{"field":"v","type":"quantitative","axis":null},"text":{"field":"rod"},"color":{"field":"label","type":"nominal"}}}
 ],
 "resolve":{"axis":{"x":"independent","y":"independent"}}
}
],
"resolve":{"scale":{"x":"independent","y":"independent","color":"independent","opacity":"independent"}}
}
